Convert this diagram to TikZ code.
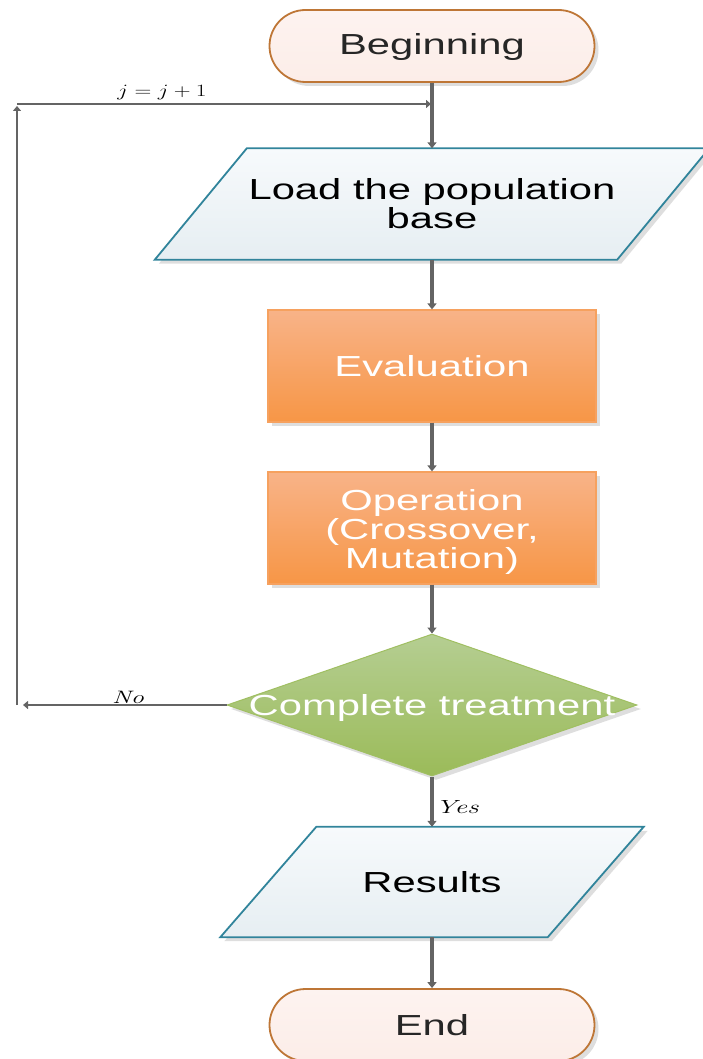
\documentclass[tikz,border=0pt]{standalone}
\usepackage{fontspec}
\usepackage{graphicx}
\usetikzlibrary{shapes.geometric,shapes.misc,arrows.meta,shadows,calc,backgrounds}
\newfontfamily\boxfont{Liberation Sans}[FakeStretch=1.44]
\definecolor{termline}{HTML}{BE7636}
\definecolor{termtop}{HTML}{FDF3F0}
\definecolor{termbot}{HTML}{FCEDE8}
\definecolor{ioline}{HTML}{31849B}
\definecolor{iotop}{HTML}{F7FAFC}
\definecolor{iobot}{HTML}{E6EEF2}
\definecolor{procline}{HTML}{F6A15F}
\definecolor{proctop}{HTML}{F8B388}
\definecolor{procbot}{HTML}{F79646}
\definecolor{decline}{HTML}{A0BF62}
\definecolor{dectop}{HTML}{B5CE92}
\definecolor{decbot}{HTML}{9BBB59}
\definecolor{connc}{HTML}{646464}
\tikzset{
  boxtext/.style={font={\boxfont\fontsize{29}{29}\selectfont}, align=center},
  myshadow/.style={drop shadow={shadow xshift=4pt, shadow yshift=-4pt, fill=black!13, opacity=1}},
  term/.style={rounded rectangle, minimum width=325pt, minimum height=72pt, inner sep=0pt,
    draw=termline, line width=1.8pt, top color=termtop, bottom color=termbot,
    myshadow, boxtext, text=black!85},
  proc/.style={rectangle, minimum width=328pt, minimum height=112pt, inner sep=0pt,
    draw=procline, line width=1.2pt, top color=proctop, bottom color=procbot,
    myshadow, boxtext, text=white},
  dec/.style={diamond, minimum width=410pt, minimum height=142pt, inner sep=0pt,
    draw=decline, line width=1pt, top color=dectop, bottom color=decbot, myshadow},
  iobox/.style={rectangle, inner sep=0pt, boxtext, text=black},
  ioshape/.style={draw=ioline, line width=1.8pt, top color=iotop, bottom color=iobot, myshadow},
  conn/.style={draw=connc, line width=3.4pt, -{Triangle[width=9pt,length=6pt]}},
  loopconn/.style={draw=connc, line width=2.2pt, -{Triangle[width=8pt,length=5pt]}},
  lbl/.style={font={\fontsize{18}{18}\selectfont}, inner sep=2pt}
}
\begin{document}
\begin{tikzpicture}[x=1pt,y=-1pt]
\useasboundingbox (0,0) rectangle (703,1059);

\node[term] (begin) at (432,46) {};
\node[boxtext, text=black!85] (begintext) at ([yshift=-1.5pt]begin.center) {Beginning};

\node[iobox, minimum width=554pt, minimum height=111pt] (load) at (432,204) {Load the population\\base};
\begin{scope}[on background layer]
  \path[ioshape] (load.south west) -- ($(load.south east)+(-92,0)$) -- (load.north east) -- ($(load.north west)+(92,0)$) -- cycle;
\end{scope}

\node[proc] (eval) at (432,366) {Evaluation};
\node[proc] (oper) at (432,528) {};
\node[boxtext, text=white] (opertext) at ([yshift=-4pt]oper.center) {Operation\\(Crossover,\\Mutation)};

\node[dec] (dec) at (432,705) {};
\node[boxtext, text=white] (dectext) at ([yshift=-3pt]dec.center) {Complete treatment};

\node[iobox, minimum width=423pt, minimum height=110pt] (res) at (432,882) {Results};
\begin{scope}[on background layer]
  \path[ioshape] (res.south west) -- ($(res.south east)+(-96,0)$) -- (res.north east) -- ($(res.north west)+(96,0)$) -- cycle;
\end{scope}

\node[term] (end) at (432,1025) {End};

\draw[conn] (begin) -- (load);
\draw[conn] (load) -- (eval);
\draw[conn] (eval) -- (oper);
\draw[conn] (oper) -- (dec);
\draw[conn] (dec) -- node[lbl, right, xshift=0pt, yshift=-5pt] {\scalebox{1.5}[1]{\fontsize{19}{19}\selectfont\itshape Yes}} (res);
\draw[conn] (res) -- (end);

\coordinate (lb) at (17,705);
\coordinate (lt) at (17,104);
\coordinate (jn) at (431,104);
\draw[loopconn, shorten >=6pt] (dec.west) -- node[lbl, above, pos=0.47, inner sep=0pt] {\scalebox{1.45}[1]{\itshape No}} (lb);
\draw[loopconn, shorten >=2pt] (lb) -- (lt);
\draw[loopconn] (lt) -- node[lbl, above, pos=0.35, inner sep=3pt] {\scalebox{1.35}[1]{$j=j+1$}} (jn);
\end{tikzpicture}
\end{document}
